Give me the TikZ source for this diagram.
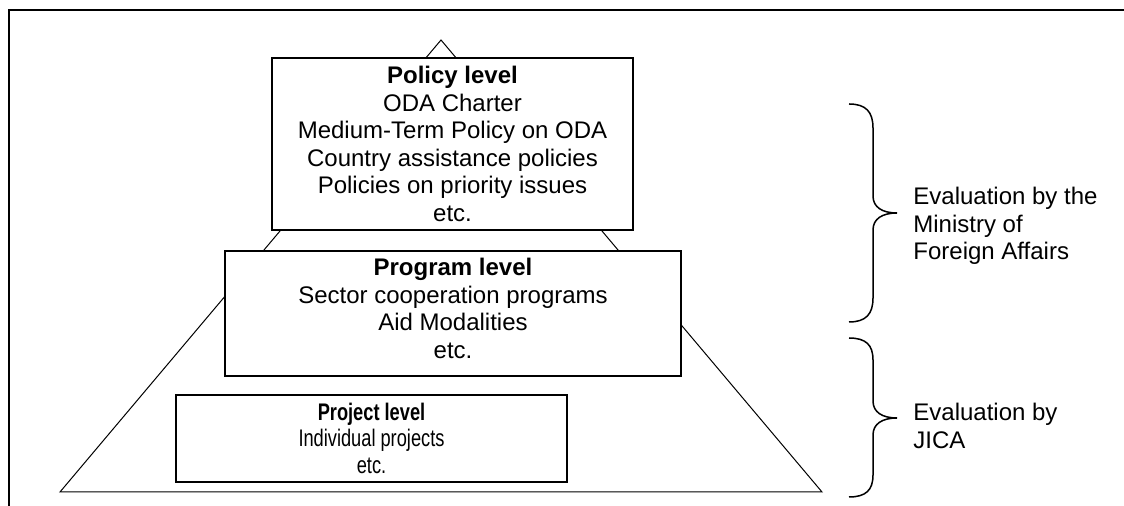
\documentclass[tikz,border=0pt]{standalone}
\usepackage{fontspec}
\setmainfont{Liberation Sans}
\begin{document}
\begin{tikzpicture}[x=0.5pt,y=-0.5pt,
  lvl/.style={draw,line width=1pt,fill=white,align=center,inner sep=0pt,
    font=\fontsize{12pt}{13.75pt}\selectfont},
  thinline/.style={line width=0.5pt},
  bracepath/.style={line width=0.75pt},
  evaltext/.style={align=left,anchor=west,inner sep=0pt,
    font=\fontsize{12pt}{13.75pt}\selectfont}]
\useasboundingbox (0,0) rectangle (1124,506);
% frame
\draw[line width=1pt] (9,506) -- (9,10.5) -- (1124,10.5);
% pyramid
\coordinate (apex) at (441,40);
\coordinate (bl) at (60,492);
\coordinate (br) at (822,492);
\draw[thinline] (apex) -- (bl) -- (br) -- cycle;
% level boxes
\node[lvl,minimum width=180.5pt,minimum height=86pt] (policy) at (452.5,144)
  {\textbf{Policy level}\\ODA Charter\\Medium-Term Policy on ODA\\Country assistance policies\\Policies on priority issues\\etc.};
\node[lvl,minimum width=228pt,minimum height=62.5pt] (program) at (453,313.5)
  {\raisebox{1pt}[\height][\depth]{\begin{tabular}{@{}c@{}}\textbf{Program level}\\Sector cooperation programs\\Aid Modalities\\etc.\end{tabular}}};
\node[lvl,minimum width=195.5pt,minimum height=43.5pt,font=\fontsize{12pt}{13.25pt}\selectfont] (project) at (371.5,438.5)
  {\raisebox{-1.5pt}[\height][\depth]{\scalebox{0.76}[1]{\begin{tabular}{@{}c@{}}\textbf{Project level}\\Individual projects\\etc.\end{tabular}}}};
% braces
\draw[bracepath] (849,104) .. controls (866,104) and (873,112) .. (873,128)
  -- (873,196) .. controls (873,207) and (882,213) .. (897,213)
  .. controls (882,213) and (873,219) .. (873,230)
  -- (873,298) .. controls (873,314) and (866,322) .. (849,322);
\draw[bracepath] (849,338) .. controls (866,338) and (873,345) .. (873,360)
  -- (873,401) .. controls (873,412) and (882,418) .. (897,418)
  .. controls (882,418) and (873,424) .. (873,435)
  -- (873,475) .. controls (873,490) and (866,497) .. (849,497);
% labels
\node[evaltext] (mofa) at (913,226) {Evaluation by the\\Ministry of\\Foreign Affairs};
\node[evaltext] (jica) at (913,426) {Evaluation by\\JICA};
\end{tikzpicture}
\end{document}
